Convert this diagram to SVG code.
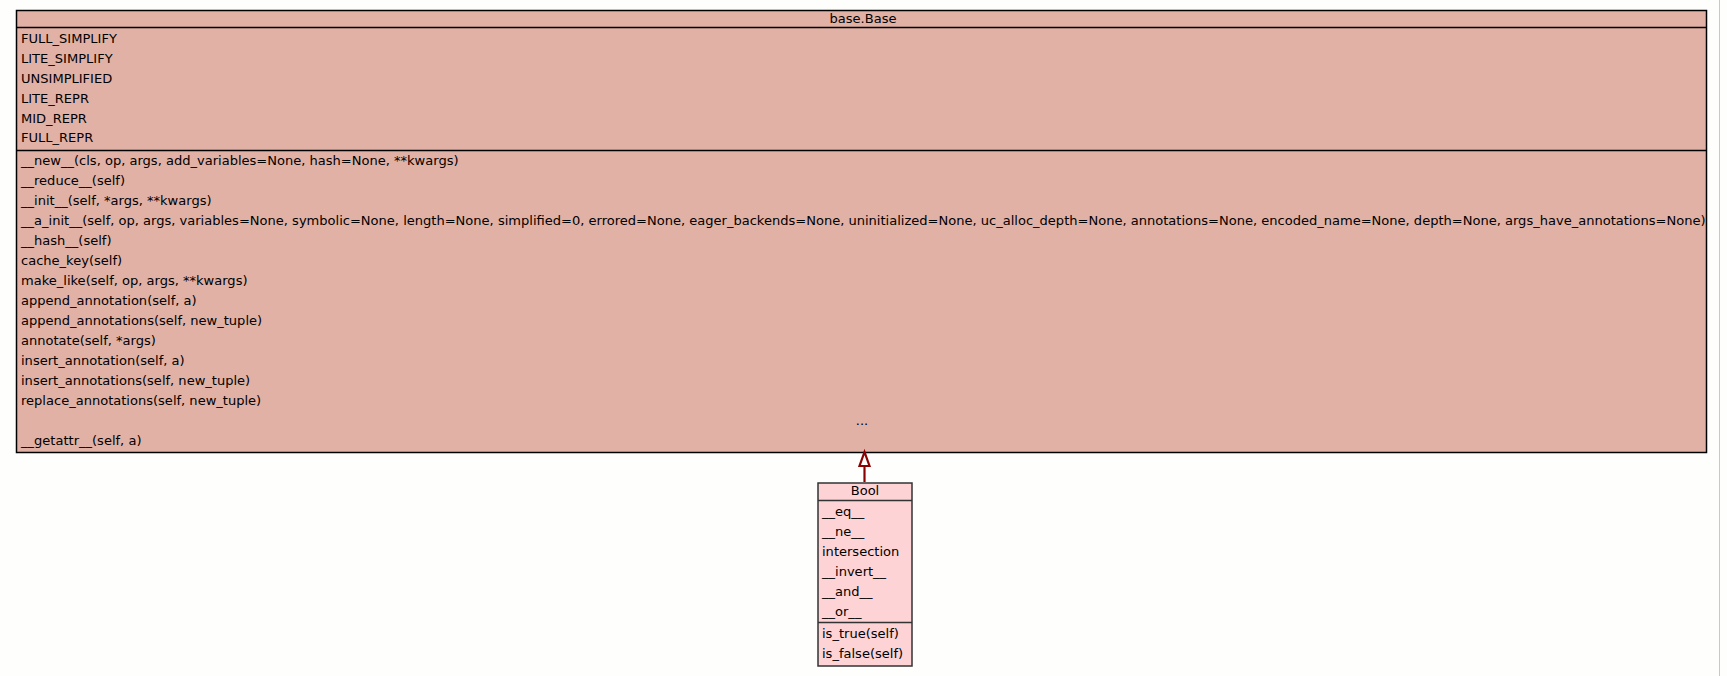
<svg xmlns="http://www.w3.org/2000/svg" width="1727" height="676" viewBox="0 0 1727 676">
<style>
text{font-family:"DejaVu Sans","Liberation Sans",sans-serif;font-size:13.04px;fill:#000}
.t{text-anchor:middle}
.base{fill:#e2b1a5;stroke:#000;stroke-width:1.5}
.bool{fill:#fdd3d6;stroke:#333;stroke-width:1.5}
.div{stroke:#000;stroke-width:1.5}
.edge{stroke:#8b0000;stroke-width:2.2;fill:none}
</style>
<rect width="1727" height="676" fill="#fefefc"/>
<line x1="1719.5" y1="0" x2="1719.5" y2="676" stroke="#c8c8c8" stroke-width="1"/>
<g id="base.Base">
<rect class="base" x="16.5" y="10.5" width="1690" height="442"/>
<line class="div" x1="16.5" y1="27.5" x2="1706.5" y2="27.5"/>
<line class="div" x1="16.5" y1="150.5" x2="1706.5" y2="150.5"/>
<text class="t" x="863" y="23">base.Base</text>
<text x="21" y="43">FULL_SIMPLIFY</text>
<text x="21" y="63">LITE_SIMPLIFY</text>
<text x="21" y="83">UNSIMPLIFIED</text>
<text x="21" y="102.5">LITE_REPR</text>
<text x="21" y="122.5">MID_REPR</text>
<text x="21" y="142">FULL_REPR</text>
<text x="21" y="164.5">__new__(cls, op, args, add_variables=None, hash=None, **kwargs)</text>
<text x="21" y="184.5">__reduce__(self)</text>
<text x="21" y="204.5">__init__(self, *args, **kwargs)</text>
<text x="21" y="224.5">__a_init__(self, op, args, variables=None, symbolic=None, length=None, simplified=0, errored=None, eager_backends=None, uninitialized=None, uc_alloc_depth=None, annotations=None, encoded_name=None, depth=None, args_have_annotations=None)</text>
<text x="21" y="244.5">__hash__(self)</text>
<text x="21" y="264.5">cache_key(self)</text>
<text x="21" y="284.5">make_like(self, op, args, **kwargs)</text>
<text x="21" y="304.5">append_annotation(self, a)</text>
<text x="21" y="324.5">append_annotations(self, new_tuple)</text>
<text x="21" y="344.5">annotate(self, *args)</text>
<text x="21" y="364.5">insert_annotation(self, a)</text>
<text x="21" y="384.5">insert_annotations(self, new_tuple)</text>
<text x="21" y="404.5">replace_annotations(self, new_tuple)</text>
<text class="t" x="862" y="424.5">...</text>
<text x="21" y="444.5">__getattr__(self, a)</text>
</g>
<g id="Bool">
<rect class="bool" x="818" y="483" width="94" height="183"/>
<line class="div" x1="818" y1="500.5" x2="912" y2="500.5" style="stroke:#333"/>
<line class="div" x1="818" y1="622.5" x2="912" y2="622.5" style="stroke:#333"/>
<text class="t" x="865" y="495">Bool</text>
<text x="822" y="515.5">__eq__</text>
<text x="822" y="535.5">__ne__</text>
<text x="822" y="555.5">intersection</text>
<text x="822" y="575.5">__invert__</text>
<text x="822" y="595.5">__and__</text>
<text x="822" y="615.5">__or__</text>
<text x="822" y="637.5">is_true(self)</text>
<text x="822" y="657.5">is_false(self)</text>
</g>
<g id="connectors">
<line class="edge" x1="864.5" y1="482" x2="864.5" y2="466"/>
<polygon class="edge" points="864.5,452 859.5,466 869.5,466" style="fill:#fefefc"/>
</g>
</svg>
